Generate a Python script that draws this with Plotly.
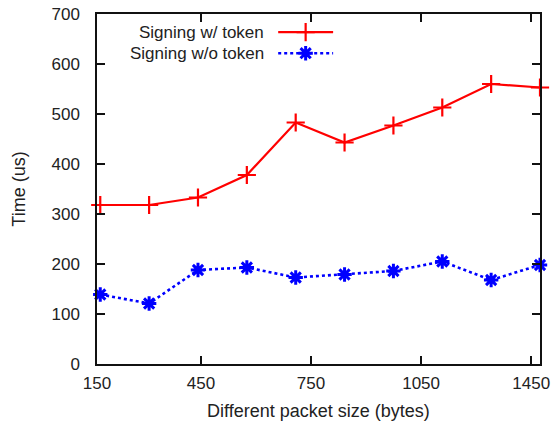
import plotly.graph_objects as go

packet_sizes = [150, 300, 450, 600, 750, 900, 1050, 1200, 1350, 1500]
with_token = [318, 318, 333, 378, 483, 443, 477, 513, 560, 553]
without_token = [139, 121, 188, 193, 173, 179, 186, 205, 168, 198]
x_tick_vals = [140, 459, 797, 1135, 1473]
x_tick_text = ["150", "450", "750", "1050", "1450"]
y_tick_vals = [0, 100, 200, 300, 400, 500, 600, 700]
series_names = ["Signing w/ token", "Signing w/o token"]

FONT = "Liberation Sans, Arial, Helvetica, sans-serif"
RED = "#ff0000"
BLUE = "#0000ff"
TXT = "#222222"

fig = go.Figure()
fig.add_trace(go.Scatter(
    x=packet_sizes, y=with_token, mode="lines+markers", name=series_names[0],
    line=dict(color=RED, width=2.2),
    marker=dict(symbol="cross-thin", size=13, line=dict(color=RED, width=2.2)),
    showlegend=False, cliponaxis=False))
fig.add_trace(go.Scatter(
    x=packet_sizes, y=without_token, mode="lines+markers", name=series_names[1],
    line=dict(color=BLUE, width=2.6, dash="dot"),
    marker=dict(symbol="asterisk-open", size=12, line=dict(color=BLUE, width=3)),
    showlegend=False, cliponaxis=False))

# gnuplot-style legend: text on the left, sample on the right
legend_rows = [0.948, 0.888]
for i, (name, color, dash, sym, size, lw) in enumerate([
        (series_names[0], RED, "solid", "cross-thin", 13, 2.2),
        (series_names[1], BLUE, "dot", "asterisk-open", 12, 3)]):
    yy = legend_rows[i]
    fig.add_trace(go.Scatter(
        x=[0.409, 0.533], y=[yy, yy], mode="lines", xaxis="x2", yaxis="y2",
        line=dict(color=color, width=2.4 if dash == "dot" else 2.2, dash=dash),
        showlegend=False, hoverinfo="skip", cliponaxis=False))
    fig.add_trace(go.Scatter(
        x=[0.471], y=[yy], mode="markers", xaxis="x2", yaxis="y2",
        marker=dict(symbol=sym, size=size, color=color, line=dict(color=color, width=lw)),
        showlegend=False, hoverinfo="skip", cliponaxis=False))
    fig.add_annotation(x=0.379, y=yy, xref="paper", yref="paper", text=name,
                       showarrow=False, xanchor="right", yanchor="middle",
                       borderpad=0,
                       font=dict(family=FONT, size=17, color=TXT))

fig.update_layout(
    width=559, height=421,
    margin=dict(l=97, r=19, t=14, b=57),
    paper_bgcolor="white", plot_bgcolor="white",
    font=dict(family=FONT, size=17, color=TXT),
    xaxis=dict(range=[140, 1500], tickvals=x_tick_vals, ticktext=x_tick_text,
               ticks="inside", ticklen=8, tickwidth=1.5, tickcolor="#111",
               showline=True, linecolor="#111", linewidth=1.5, mirror="ticks",
               showgrid=False, zeroline=False, ticklabelstandoff=3,
               automargin=False,
               title=dict(text="Different packet size (bytes)", standoff=12,
                          font=dict(size=18))),
    yaxis=dict(range=[0, 700], tickvals=y_tick_vals,
               ticks="inside", ticklen=8, tickwidth=1.5, tickcolor="#111",
               showline=True, linecolor="#111", linewidth=1.5, mirror="ticks",
               showgrid=False, zeroline=False, ticklabelstandoff=12,
               automargin=False,
               title=dict(text="Time (us)", standoff=21, font=dict(size=18))),
    xaxis2=dict(range=[0, 1], overlaying="x", visible=False, fixedrange=True),
    yaxis2=dict(range=[0, 1], overlaying="y", visible=False, fixedrange=True),
)

fig.write_html("out.html", config={"displayModeBar": False},
               post_script="document.body.style.margin='0';document.body.style.overflow='hidden';")
